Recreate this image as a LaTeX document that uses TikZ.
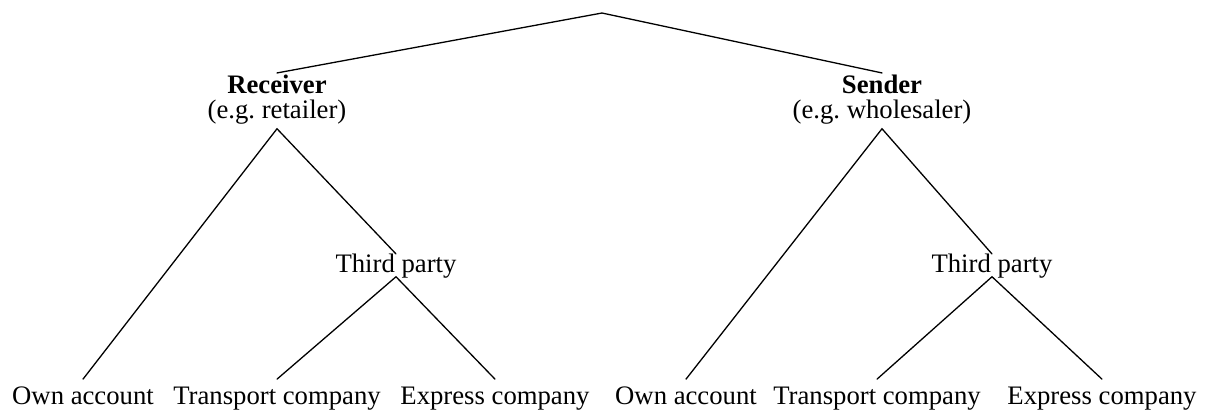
\documentclass[tikz,border=0pt]{standalone}
\usepackage{fontspec}
\setmainfont{Liberation Serif}
\begin{document}
\begin{tikzpicture}[x=0.5pt,y=-0.5pt,
  lbl/.style={font=\fontsize{13.35}{15}\selectfont, inner sep=0pt,
    text height=0.683em, text depth=0.217em, anchor=base},
  head/.style={lbl, font=\fontsize{13.35}{15}\selectfont\bfseries},
  edge/.style={line width=0.65pt, line cap=round}]
\useasboundingbox (0,0) rectangle (1205,409);
\coordinate (top) at (602,13);
% left branch
\node[head] (recv) at (277,93) {Receiver};
\node[lbl] (recvex) at (277,118) {(e.g.\ retailer)};
\node[lbl] (tpL) at (396,272) {Third party};
\node[lbl] (ownL) at (83,404) {Own account};
\node[lbl] (trL) at (277,404) {Transport company};
\node[lbl] (exL) at (495,404) {Express company};
% right branch
\node[head] (send) at (882,93) {Sender};
\node[lbl] (sendex) at (882,118) {(e.g.\ wholesaler)};
\node[lbl] (tpR) at (992,272) {Third party};
\node[lbl] (ownR) at (686,404) {Own account};
\node[lbl] (trR) at (877,404) {Transport company};
\node[lbl] (exR) at (1102,404) {Express company};
% connectors
\draw[edge] ([yshift=3pt]recv.north) -- (top) -- ([yshift=3pt]send.north);
\draw[edge] ([yshift=5.4pt]ownL.north) -- ([yshift=-3pt]recvex.south) -- ([yshift=2pt]tpL.north);
\draw[edge] ([yshift=5.4pt]trL.north) -- (tpL.south) -- ([yshift=5.4pt]exL.north);
\draw[edge] ([yshift=5.4pt]ownR.north) -- ([yshift=-3pt]sendex.south) -- ([yshift=2pt]tpR.north);
\draw[edge] ([yshift=5.4pt]trR.north) -- (tpR.south) -- ([yshift=5.4pt]exR.north);
\end{tikzpicture}
\end{document}
